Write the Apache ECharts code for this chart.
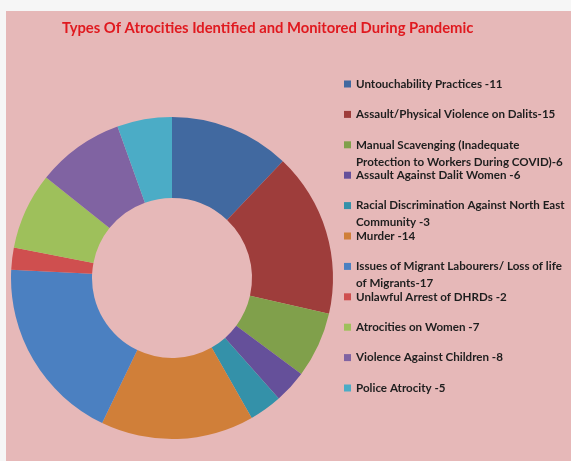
<!DOCTYPE html>
<html><head><meta charset="utf-8">
<script src="https://cdn.jsdelivr.net/npm/echarts@6/dist/echarts.min.js"></script>
<style>
html,body{margin:0;padding:0;background:#f6f6f6;width:571px;height:461px;overflow:hidden}
#c{position:absolute;left:6px;top:11px;width:565px;height:450px;background:#e6b8b8}
</style>
</head><body><div id="c"></div>
<script>
const titleText = 'Types Of Atrocities Identified and Monitored During Pandemic';
const categories = [
  'Untouchability Practices -11',
  'Assault/Physical Violence on Dalits-15',
  'Manual Scavenging (Inadequate\nProtection to Workers During COVID)-6',
  'Assault Against Dalit Women -6',
  'Racial Discrimination Against North East\nCommunity -3',
  'Murder -14',
  'Issues of Migrant Labourers/ Loss of life\nof Migrants-17',
  'Unlawful Arrest of DHRDs -2',
  'Atrocities on Women -7',
  'Violence Against Children -8',
  'Police Atrocity -5'
];
// slice sizes as drawn in the picture (the "Dalit Women" slice is drawn at 3)
const values = [11, 15, 6, 3, 3, 14, 17, 2, 7, 8, 5];
const colors = ['#4169a0','#9e3d3b','#80a04b','#65509a','#3491a9','#d07f39','#4b80c1','#cf4f4f','#9ec05b','#8063a2','#4bacc6'];

const LH = 17;
const legends = categories.map((name, i) => {
  const multi = name.indexOf('\n') >= 0;
  const cy = 73 + i * 30.4;
  return {
    orient: 'vertical',
    left: 338,
    top: multi ? cy - 1.5 * LH : cy - LH / 2,
    padding: 0,
    icon: 'rect',
    itemWidth: 7,
    itemHeight: 7,
    data: [name],
    formatter: n => (n.indexOf('\n') >= 0 ? '\n' + n : n),
    textStyle: { fontFamily: 'Lato', fontWeight: 'bold', fontSize: 11.6, color: '#1e1e1e', lineHeight: LH }
  };
});

const chart = echarts.init(document.getElementById('c'), null, { renderer: 'canvas' });
chart.setOption({
  backgroundColor: 'transparent',
  color: colors,
  title: {
    text: titleText,
    left: 56,
    top: 10,
    padding: 0,
    textStyle: { fontFamily: 'Lato', fontWeight: 'bold', fontSize: 14.8, color: '#e0191f' }
  },
  legend: legends,
  series: [{
    type: 'pie',
    center: [166, 267],
    radius: [80, 161],
    startAngle: 90,
    clockwise: true,
    label: { show: false },
    labelLine: { show: false },
    emphasis: { scale: false },
    itemStyle: { borderWidth: 0 },
    data: categories.map((n, i) => ({ name: n, value: values[i] }))
  }]
});
</script>
</body></html>
